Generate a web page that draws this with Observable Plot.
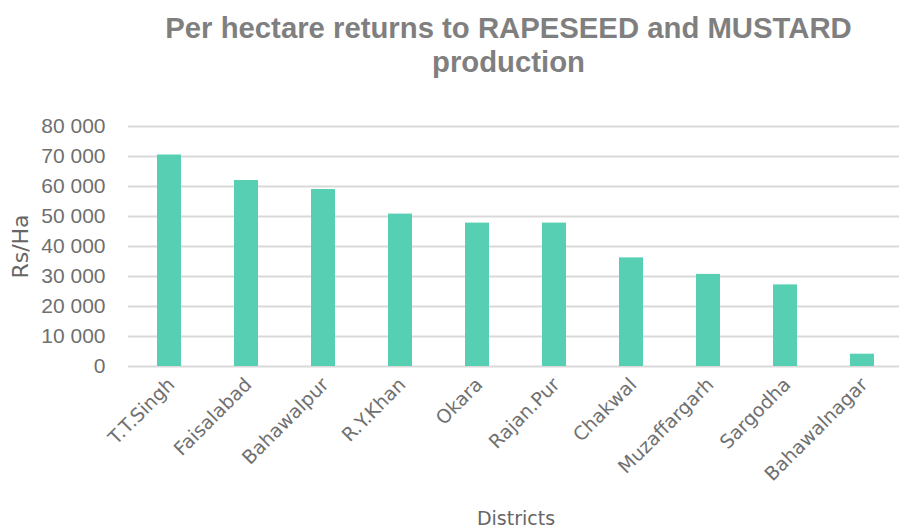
<!DOCTYPE html>
<html>
<head>
<meta charset="utf-8">
<script src="https://cdn.jsdelivr.net/npm/d3@7"></script>
<script src="https://cdn.jsdelivr.net/npm/@observablehq/plot@0.6"></script>
<style>
  body { margin: 0; background: #fff; }
  #title { width: 899px; height: 100px; box-sizing: border-box; padding: 11px 0 0 118px; text-align: center;
    font-family: "Liberation Sans", Arial, sans-serif; font-weight: bold; font-size: 29.3px; line-height: 34px; color: #7f7f7f; }
  svg { display: block; }
</style>
</head>
<body>
<div id="title">Per hectare returns to RAPESEED and MUSTARD<br>production</div>
<div id="chart"></div>
<script>
const districts = ["T.T.Singh", "Faisalabad", "Bahawalpur", "R.Y.Khan", "Okara", "Rajan.Pur", "Chakwal", "Muzaffargarh", "Sargodha", "Bahawalnagar"];
const returns = [70500, 62000, 59000, 50800, 47800, 47800, 36200, 30700, 27200, 4100];
const yTicks = [0, 10000, 20000, 30000, 40000, 50000, 60000, 70000, 80000];
const yTitle = "Rs/Ha";
const xTitle = "Districts";

const data = districts.map((d, i) => ({district: d, value: returns[i]}));
const fmt = d => d3.format(",")(d).replace(/,/g, " ");

const chart = Plot.plot({
  width: 899,
  height: 431,
  marginTop: 26,
  marginBottom: 165,
  marginLeft: 128,
  marginRight: -4,
  style: {fontFamily: "Liberation Sans, Arial, sans-serif", background: "#fff"},
  x: {domain: districts, paddingInner: 0.69, paddingOuter: 0.345, label: null},
  y: {domain: [0, 80000], label: null},
  marks: [
    Plot.ruleY(yTicks, {stroke: "#d9d9d9", strokeWidth: 2}),
    Plot.barY(data, {x: "district", y: "value", fill: "#56cfb2"}),
    Plot.axisY({ticks: yTicks, tickFormat: fmt, tickSize: 0, tickPadding: 23, fontSize: 21, color: "#6f6f6f", label: null}),
    Plot.axisX({tickSize: 0, tickRotate: -45, tickPadding: 15, dx: 2, fontSize: 19, color: "#707070", label: null,
      fontFamily: "DejaVu Sans, sans-serif"}),
    Plot.text([xTitle], {frameAnchor: "bottom", dy: 152, lineAnchor: "middle", textAnchor: "middle", fontSize: 19, fill: "#666", fontFamily: "DejaVu Sans, sans-serif"}),
    Plot.text([yTitle], {frameAnchor: "left", dx: -108, rotate: -90, textAnchor: "middle", lineAnchor: "middle", fontSize: 22, fill: "#666", fontFamily: "DejaVu Sans, sans-serif"})
  ]
});
document.getElementById("chart").append(chart);
</script>
</body>
</html>
